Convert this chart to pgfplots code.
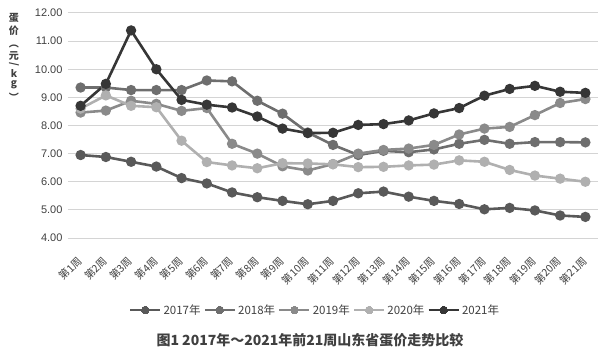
\documentclass[border=0pt]{standalone}
\usepackage{pgfplots}
\pgfplotsset{compat=1.18}
\usepackage{graphicx}
\usepackage{fontspec}
\setmainfont{Liberation Sans}
\newfontfamily\cjk{Noto Sans CJK SC}
\definecolor{c17}{HTML}{595959}
\definecolor{c18}{HTML}{6E6E6E}
\definecolor{c19}{HTML}{8A8A8A}
\definecolor{c20}{HTML}{B0B0B0}
\definecolor{c21}{HTML}{363636}
\definecolor{gridc}{HTML}{D4D4D4}
\definecolor{txt}{HTML}{404040}
\begin{document}
\begin{tikzpicture}[x=1pt,y=1pt]
\path[use as bounding box] (0,0) rectangle (600,359);
\begin{axis}[
  at={(68pt,121pt)}, anchor=south west,
  scale only axis, width=530pt, height=225pt,
  xmin=0.5, xmax=21.5, ymin=4, ymax=12,
  ytick={4,5,...,12},
  /pgf/number format/fixed, /pgf/number format/fixed zerofill,
  /pgf/number format/precision=2, /pgf/number format/assume math mode=true,
  yticklabel style={font=\fontsize{11}{12}\selectfont, text=txt, xshift=-2pt},
  xtick={1,...,21},
  xticklabels={第1周,第2周,第3周,第4周,第5周,第6周,第7周,第8周,第9周,第10周,第11周,第12周,第13周,第14周,第15周,第16周,第17周,第18周,第19周,第20周,第21周},
  xticklabel style={font=\cjk\fontsize{10.5}{11}\selectfont, text=txt, yshift=-16pt, xshift=-4pt, rotate=45, anchor=north east, inner sep=1pt},
  ymajorgrids, grid style={gridc, line width=1pt},
  axis line style={draw=none},
  major tick length=0pt,
  every axis plot/.append style={line width=2.6pt, mark=*, mark size=3.8pt},
  legend columns=5,
  legend style={at={(247pt,-72pt)}, anchor=center, draw=none, fill=none,
     font=\cjk\fontsize{11.5}{12}\selectfont, text=txt,
     /tikz/every even column/.append style={column sep=1pt}},
  legend image code/.code={
     \draw[#1, line width=2.6pt] (0pt,0pt) -- (30pt,0pt);
     \draw[#1, mark repeat=1, line width=0pt] plot coordinates {(15pt,0pt)};
  },
]
\addplot[c17, mark options={fill=c17, draw=c17}] coordinates {(1,6.95)(2,6.88)(3,6.71)(4,6.54)(5,6.13)(6,5.94)(7,5.62)(8,5.45)(9,5.32)(10,5.20)(11,5.32)(12,5.59)(13,5.65)(14,5.47)(15,5.32)(16,5.21)(17,5.02)(18,5.07)(19,4.98)(20,4.80)(21,4.75)};
\addlegendentry{2017年}
\addplot[c18, mark options={fill=c18, draw=c18}] coordinates {(1,9.35)(2,9.35)(3,9.26)(4,9.26)(5,9.26)(6,9.60)(7,9.57)(8,8.88)(9,8.42)(10,7.75)(11,7.31)(12,6.95)(13,7.10)(14,7.05)(15,7.15)(16,7.35)(17,7.49)(18,7.35)(19,7.41)(20,7.41)(21,7.40)};
\addlegendentry{2018年}
\addplot[c19, mark options={fill=c19, draw=c19}] coordinates {(1,8.46)(2,8.53)(3,8.88)(4,8.77)(5,8.52)(6,8.62)(7,7.35)(8,7.00)(9,6.55)(10,6.40)(11,6.63)(12,7.00)(13,7.13)(14,7.18)(15,7.31)(16,7.68)(17,7.89)(18,7.95)(19,8.37)(20,8.80)(21,8.94)};
\addlegendentry{2019年}
\addplot[c20, mark options={fill=c20, draw=c20}] coordinates {(1,8.60)(2,9.07)(3,8.70)(4,8.65)(5,7.46)(6,6.70)(7,6.58)(8,6.48)(9,6.66)(10,6.65)(11,6.62)(12,6.52)(13,6.53)(14,6.58)(15,6.61)(16,6.76)(17,6.71)(18,6.42)(19,6.22)(20,6.11)(21,6.00)};
\addlegendentry{2020年}
\addplot[c21, mark options={fill=c21, draw=c21}] coordinates {(1,8.70)(2,9.48)(3,11.38)(4,10.00)(5,8.91)(6,8.74)(7,8.64)(8,8.32)(9,7.89)(10,7.73)(11,7.74)(12,8.02)(13,8.05)(14,8.18)(15,8.43)(16,8.62)(17,9.06)(18,9.30)(19,9.41)(20,9.20)(21,9.16)};
\addlegendentry{2021年}
\end{axis}
\node[font=\cjk\bfseries\fontsize{14}{15}\selectfont, text=txt] at (310,19) {图1 2017年～2021年前21周山东省蛋价走势比较};
\node[font=\cjk\bfseries\fontsize{10}{11}\selectfont, text=txt, anchor=north, align=center, inner sep=0pt] at (14,346)
  {\shortstack{蛋\\价\\\rotatebox{-90}{（}\\元\\\rotatebox{-90}{/}\\k\\g\\\rotatebox{-90}{）}}};
\end{tikzpicture}
\end{document}
